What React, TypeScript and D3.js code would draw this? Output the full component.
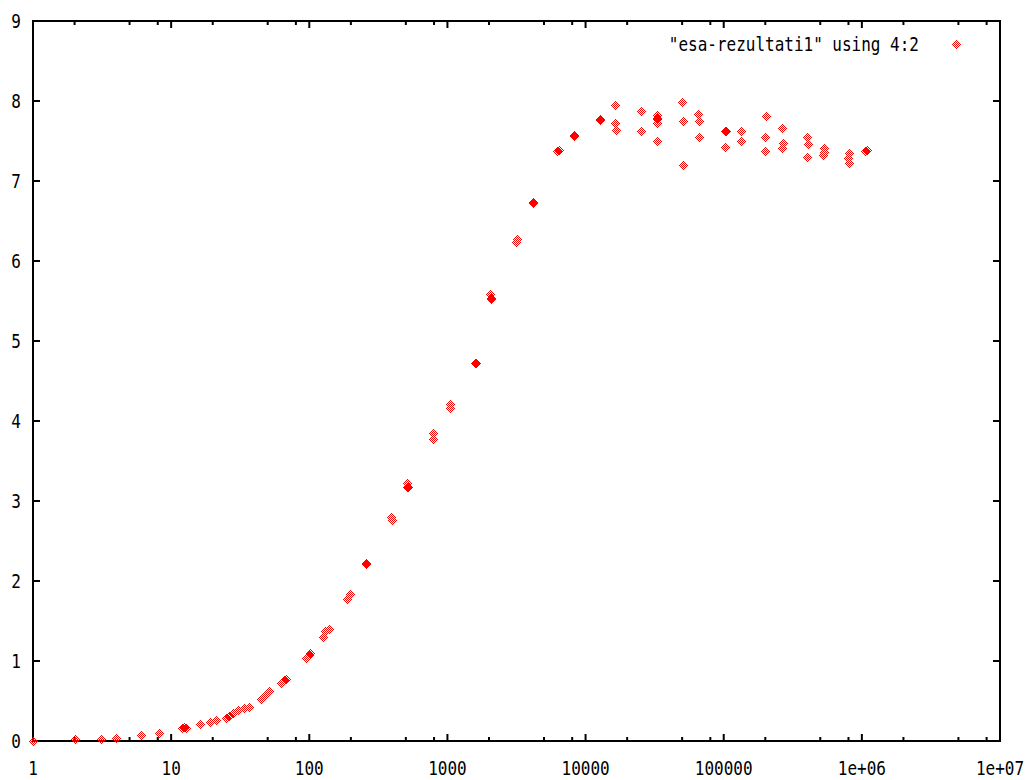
import React from "react";
import * as d3 from "d3";

// x values (column 4) and y values (column 2)
const xValues: number[] = [
  1, 2, 3.05, 4, 6.1, 8,
  11.9, 12.2, 12.9, 16, 19, 21,
  24.4, 26, 28, 30.6, 33, 36,
  45, 48, 51.5, 61.5, 65, 68,
  94.5, 98, 101.5, 123, 130, 137,
  189, 195, 255, 258, 388, 392,
  508, 512, 516, 781, 781, 1024, 1024,
  1562, 1580, 2048, 2048, 2070, 3125, 3160,
  4096, 4140, 6250, 6320, 8192, 8280, 12500, 12640,
  16384, 16384, 16384,
  25000, 25000,
  32768, 32768, 32768, 32768, 32768,
  50000, 50000, 50000,
  65536, 65536, 65536,
  100000, 100000, 101700,
  131072, 131072,
  200000, 200000, 200000,
  262144, 262144, 262144,
  400000, 400000, 400000,
  524288, 524288, 524288,
  800000, 800000, 800000,
  1048576, 1066000,
];
const yValues: number[] = [
  0, 0.02, 0.02, 0.04, 0.07, 0.1,
  0.16, 0.17, 0.16, 0.21, 0.24, 0.26,
  0.29, 0.31, 0.35, 0.39, 0.41, 0.43,
  0.53, 0.58, 0.62, 0.72, 0.76, 0.78,
  1.04, 1.07, 1.1, 1.3, 1.37, 1.4,
  1.77, 1.84, 2.21, 2.22, 2.76, 2.8,
  3.17, 3.22, 3.18, 3.85, 3.78, 4.16, 4.21,
  4.72, 4.73, 5.53, 5.59, 5.54, 6.24, 6.27,
  6.73, 6.74, 7.375, 7.385, 7.56, 7.57, 7.76, 7.77,
  7.95, 7.73, 7.64,
  7.88, 7.62,
  7.83, 7.78, 7.79, 7.73, 7.5,
  7.99, 7.75, 7.2,
  7.84, 7.75, 7.55,
  7.62, 7.43, 7.63,
  7.62, 7.5,
  7.81, 7.55, 7.37,
  7.66, 7.47, 7.41,
  7.55, 7.46, 7.3,
  7.41, 7.36, 7.33,
  7.35, 7.29, 7.23,
  7.38, 7.39,
];

const xTickValues: number[] = [1, 10, 100, 1000, 10000, 100000, 1e6, 1e7];
const xTickLabels: string[] = ["1", "10", "100", "1000", "10000", "100000", "1e+06", "1e+07"];
const yTickValues: number[] = [0, 1, 2, 3, 4, 5, 6, 7, 8, 9];
const legendLabel = '"esa-rezultati1" using 4:2';

const W = 1031;
const H = 780;
const left = 33;
const right = 1000;
const top = 21;
const bottom = 741;

const FONT = "'DejaVu Sans Mono', monospace";

// dithered diamond: pixels with |dx|+|dy|<=4 and even parity relative to centre
function diamondPath(cx: number, cy: number): string {
  let d = "";
  for (let dy = -4; dy <= 4; dy++) {
    for (let dx = -4; dx <= 4; dx++) {
      if (Math.abs(dx) + Math.abs(dy) <= 4 && ((dx + dy) % 2 + 2) % 2 === 0) {
        d += `M${cx + dx},${cy + dy}h1v1h-1z`;
      }
    }
  }
  return d;
}

function Label({ x, y, anchor, children }: { x: number; y: number; anchor: string; children: any }) {
  return (
    <g transform={`translate(${x},${y}) scale(1,1.2)`}>
      <text
        x={0}
        y={0}
        textAnchor={anchor as any}
        dominantBaseline="central"
        fontFamily={FONT}
        fontSize={16}
        fill="#000"
      >
        {children}
      </text>
    </g>
  );
}

export default function App() {
  const x = d3.scaleLog().domain([1, 1e7]).range([left, right]);
  const y = d3.scaleLinear().domain([0, 9]).range([bottom, top]);

  const minorTicks: number[] = [];
  for (let e = 0; e < 7; e++) {
    for (const m of [2, 5, 8]) minorTicks.push(m * Math.pow(10, e));
  }

  // pixel positions snapped to a dither phase; overlapping neighbours take the opposite phase
  const pts: { px: number; py: number; parity: number }[] = [];
  xValues.forEach((xv, i) => {
    let px = Math.round(x(xv));
    const py = Math.round(y(yValues[i]));
    let parity = 0;
    for (const q of pts) {
      if (Math.abs(q.px - px) <= 2 && Math.abs(q.py - py) <= 2) {
        parity = 1 - q.parity;
        break;
      }
    }
    if ((((px + py) % 2) + 2) % 2 !== parity) px += 1;
    pts.push({ px, py, parity });
  });

  return (
    <svg
      width={W}
      height={H}
      style={{ position: "absolute", left: 0, top: 0, background: "#fff" }}
    >
      <rect x={0} y={0} width={W} height={H} fill="#fff" />

      {/* y ticks */}
      {yTickValues.map((v) => (
        <g key={"y" + v}>
          <line x1={left} x2={left + 7} y1={y(v)} y2={y(v)} stroke="#000" strokeWidth={2} />
          <line x1={right - 7} x2={right} y1={y(v)} y2={y(v)} stroke="#000" strokeWidth={2} />
          <Label x={21} y={y(v)} anchor="end">{String(v)}</Label>
        </g>
      ))}

      {/* x ticks */}
      {xTickValues.map((v, i) => (
        <g key={"x" + v}>
          <line x1={x(v)} x2={x(v)} y1={bottom} y2={bottom - 7} stroke="#000" strokeWidth={2} />
          <line x1={x(v)} x2={x(v)} y1={top} y2={top + 7} stroke="#000" strokeWidth={2} />
          <Label x={x(v)} y={768} anchor="middle">{xTickLabels[i]}</Label>
        </g>
      ))}
      {minorTicks.map((v) => (
        <g key={"m" + v}>
          <line x1={x(v)} x2={x(v)} y1={bottom} y2={bottom - 4} stroke="#000" strokeWidth={2} />
          <line x1={x(v)} x2={x(v)} y1={top} y2={top + 4} stroke="#000" strokeWidth={2} />
        </g>
      ))}

      {/* frame */}
      <rect
        x={left}
        y={top}
        width={right - left}
        height={bottom - top}
        fill="none"
        stroke="#000"
        strokeWidth={2}
      />

      {/* legend */}
      <Label x={919} y={44} anchor="end">{legendLabel}</Label>
      <path d={diamondPath(956, 44)} fill="#ff0000" shapeRendering="crispEdges" />

      {/* points */}
      {pts.map((p, i) => (
        <path
          key={"p" + i}
          d={diamondPath(p.px, p.py)}
          fill="#ff0000"
          shapeRendering="crispEdges"
        />
      ))}
    </svg>
  );
}
